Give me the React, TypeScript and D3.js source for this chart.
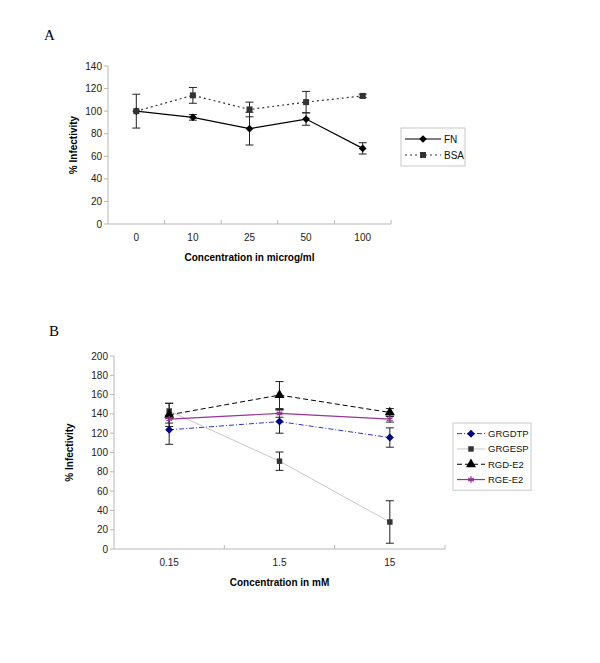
import { useEffect, useRef } from 'react';
import * as d3 from 'd3';

// Panel A data
const concA = ['0', '10', '25', '50', '100'];
const fnValues = [100, 94.5, 84.5, 93, 67];
const fnErr = [15, 2.5, 14.5, 5.5, 5];
const bsaValues = [100, 114, 101.5, 108, 113.5];
const bsaErr = [0, 7, 6.5, 9.5, 1.5];
const ticksA = [0, 20, 40, 60, 80, 100, 120, 140];

// Panel B data
const concB = ['0.15', '1.5', '15'];
const grgdtpValues = [123.5, 132, 115.5];
const grgdtpErr = [15, 12, 10];
const grgespValues = [143, 91, 28];
const grgespErr = [8, 9.5, 22];
const rgdValues = [139, 159.5, 141.5];
const rgdErr = [12, 14, 4];
const rgeValues = [134.5, 140.5, 134.5];
const rgeErr = [4, 4, 3];
const ticksB = [0, 20, 40, 60, 80, 100, 120, 140, 160, 180, 200];

type Series = {
  name: string;
  values: number[];
  err: number[];
  line: string;
  dash: string;
  width: number;
  marker: 'diamond' | 'square' | 'triangle' | 'star';
  markerColor: string;
  size: number;
};

const seriesA: Series[] = [
  { name: 'FN', values: fnValues, err: fnErr, line: '#000', dash: '', width: 1.2, marker: 'diamond', markerColor: '#000', size: 30 },
  { name: 'BSA', values: bsaValues, err: bsaErr, line: '#333', dash: '2,3', width: 1.2, marker: 'square', markerColor: '#333', size: 36 },
];

const seriesB: Series[] = [
  { name: 'GRGDTP', values: grgdtpValues, err: grgdtpErr, line: '#3333cc', dash: '5,2,1,2', width: 1, marker: 'diamond', markerColor: '#000080', size: 32 },
  { name: 'GRGESP', values: grgespValues, err: grgespErr, line: '#c8c8c8', dash: '', width: 1, marker: 'square', markerColor: '#333', size: 30 },
  { name: 'RGD-E2', values: rgdValues, err: rgdErr, line: '#000', dash: '5,3', width: 1, marker: 'triangle', markerColor: '#000', size: 44 },
  { name: 'RGE-E2', values: rgeValues, err: rgeErr, line: '#993399', dash: '', width: 1.2, marker: 'star', markerColor: '#993399', size: 28 },
];

const symbolFor = (m: Series['marker']) =>
  m === 'square' || m === 'diamond' ? d3.symbolSquare : m === 'triangle' ? d3.symbolTriangle : d3.symbolAsterisk;

type Panel = {
  letter: string;
  letterX: number;
  letterY: number;
  cats: string[];
  series: Series[];
  ticks: number[];
  yMax: number;
  left: number;
  right: number;
  top: number;
  bottom: number;
  xTitle: string;
  yTitleX: number;
  textSize: number;
  legend: { x: number; y: number; w: number; step: number; line: number };
};

const panels: Panel[] = [
  {
    letter: 'A', letterX: 44, letterY: 40, cats: concA, series: seriesA, ticks: ticksA, yMax: 140,
    left: 108, right: 391, top: 66, bottom: 224, xTitle: 'Concentration in microg/ml', yTitleX: 73, textSize: 10,
    legend: { x: 401, y: 128, w: 64, step: 16, line: 36 },
  },
  {
    letter: 'B', letterX: 49, letterY: 336, cats: concB, series: seriesB, ticks: ticksB, yMax: 200,
    left: 114, right: 445, top: 356, bottom: 549, xTitle: 'Concentration in mM', yTitleX: 69, textSize: 9.5,
    legend: { x: 453, y: 423, w: 78, step: 15.3, line: 28 },
  },
];

function drawPanel(root: d3.Selection<SVGSVGElement, unknown, null, undefined>, p: Panel) {
  const g = root.append('g');
  const x = d3.scaleBand<string>().domain(p.cats).range([p.left, p.right]);
  const y = d3.scaleLinear().domain([0, p.yMax]).range([p.bottom, p.top]);
  const cx = (c: string) => x(c)! + x.bandwidth() / 2;
  const font = 'Arial, "Liberation Sans", sans-serif';

  const marker = (s: Series, px: number, py: number) => {
    const sym = d3.symbol().type(symbolFor(s.marker)).size(s.size);
    g.append('path')
      .attr('d', sym()!)
      .attr('transform', `translate(${px},${py})${s.marker === 'diamond' ? ' rotate(45)' : ''}`)
      .attr('fill', s.markerColor)
      .attr('stroke', s.marker === 'star' ? s.markerColor : 'none')
      .attr('stroke-width', s.marker === 'star' ? 1.3 : 0);
  };

  g.append('text')
    .attr('x', p.letterX)
    .attr('y', p.letterY)
    .attr('font-family', '"Liberation Serif", "Times New Roman", serif')
    .attr('font-size', 15)
    .text(p.letter);

  // axes
  const axisColor = '#b8b8b8';
  g.append('line').attr('x1', p.left).attr('x2', p.left).attr('y1', p.top).attr('y2', p.bottom).attr('stroke', axisColor);
  g.append('line').attr('x1', p.left).attr('x2', p.right).attr('y1', p.bottom).attr('y2', p.bottom).attr('stroke', axisColor);
  p.ticks.forEach((t) => {
    g.append('line').attr('x1', p.left - 4).attr('x2', p.left).attr('y1', y(t)).attr('y2', y(t)).attr('stroke', axisColor);
    g.append('text')
      .attr('x', p.left - 6)
      .attr('y', y(t))
      .attr('dy', '0.35em')
      .attr('text-anchor', 'end')
      .attr('font-family', font)
      .attr('font-size', 10)
      .attr('fill', '#222')
      .text(t);
  });
  p.cats.forEach((c, i) => {
    if (i > 0) {
      const xt = x(c)!;
      g.append('line').attr('x1', xt).attr('x2', xt).attr('y1', p.bottom - 4).attr('y2', p.bottom).attr('stroke', axisColor);
    }
    g.append('text')
      .attr('x', cx(c))
      .attr('y', p.bottom + 17)
      .attr('text-anchor', 'middle')
      .attr('font-family', font)
      .attr('font-size', 10)
      .attr('fill', '#222')
      .text(c);
  });
  g.append('line').attr('x1', p.right).attr('x2', p.right).attr('y1', p.bottom - 4).attr('y2', p.bottom).attr('stroke', axisColor);

  g.append('text')
    .attr('x', (p.left + p.right) / 2)
    .attr('y', p.bottom + 37)
    .attr('text-anchor', 'middle')
    .attr('font-family', font)
    .attr('font-weight', 'bold')
    .attr('font-size', 10)
    .text(p.xTitle);

  g.append('text')
    .attr('transform', `translate(${p.yTitleX},${(p.top + p.bottom) / 2}) rotate(-90)`)
    .attr('text-anchor', 'middle')
    .attr('dy', '0.35em')
    .attr('font-family', font)
    .attr('font-weight', 'bold')
    .attr('font-size', 10)
    .text('% Infectivity');

  // lines
  p.series.forEach((s) => {
    const line = d3.line<number>().x((_, i) => cx(p.cats[i])).y((v) => y(v));
    g.append('path')
      .attr('d', line(s.values))
      .attr('fill', 'none')
      .attr('stroke', s.line)
      .attr('stroke-width', s.width)
      .attr('stroke-dasharray', s.dash || null);
  });

  // error bars
  p.series.forEach((s) => {
    s.values.forEach((v, i) => {
      const e = s.err[i];
      if (!e) return;
      const xc = cx(p.cats[i]);
      const y1 = y(v + e);
      const y2 = y(v - e);
      g.append('line').attr('x1', xc).attr('x2', xc).attr('y1', y1).attr('y2', y2).attr('stroke', '#222').attr('stroke-width', 1);
      [y1, y2].forEach((yy) =>
        g.append('line').attr('x1', xc - 4).attr('x2', xc + 4).attr('y1', yy).attr('y2', yy).attr('stroke', '#222').attr('stroke-width', 1)
      );
    });
  });

  // markers
  p.series.forEach((s) => {
    s.values.forEach((v, i) => marker(s, cx(p.cats[i]), y(v)));
  });

  // legend
  const L = p.legend;
  const h = p.series.length * L.step + 6;
  g.append('rect')
    .attr('x', L.x)
    .attr('y', L.y)
    .attr('width', L.w)
    .attr('height', h)
    .attr('fill', '#fff')
    .attr('stroke', '#c8c8c8');
  p.series.forEach((s, i) => {
    const ly = L.y + 3 + L.step * (i + 0.5);
    const lx1 = L.x + 4;
    const lx2 = lx1 + L.line;
    g.append('line')
      .attr('x1', lx1)
      .attr('x2', lx2)
      .attr('y1', ly)
      .attr('y2', ly)
      .attr('stroke', s.line)
      .attr('stroke-width', s.width)
      .attr('stroke-dasharray', s.dash || null);
    marker(s, (lx1 + lx2) / 2, ly);
    g.append('text')
      .attr('x', lx2 + 3)
      .attr('y', ly)
      .attr('dy', '0.35em')
      .attr('font-family', font)
      .attr('font-size', p.textSize)
      .attr('fill', '#111')
      .text(s.name);
  });
}

export default function App() {
  const svgRef = useRef<SVGSVGElement>(null);

  useEffect(() => {
    if (!svgRef.current) return;
    const svg = d3.select(svgRef.current);
    svg.selectAll('*').remove();
    svg.append('rect').attr('width', 600).attr('height', 663).attr('fill', '#fff');
    panels.forEach((p) => drawPanel(svg, p));
  }, []);

  return (
    <svg
      ref={svgRef}
      width={600}
      height={663}
      style={{ position: 'absolute', left: 0, top: 0, display: 'block' }}
    />
  );
}
